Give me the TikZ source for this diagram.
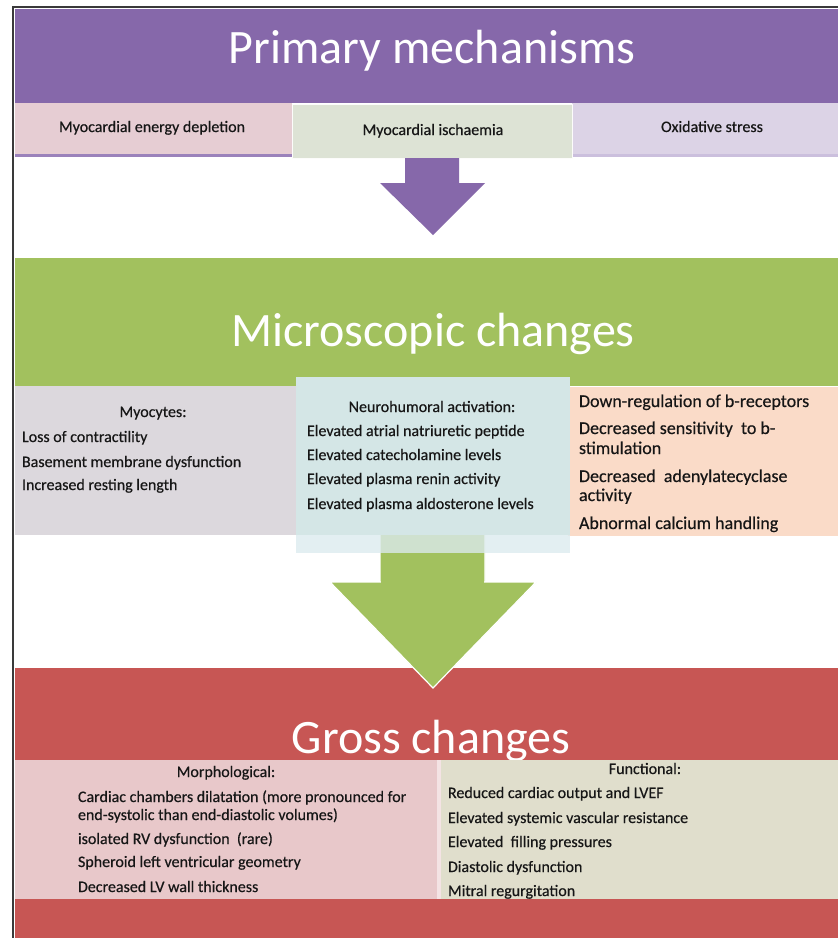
\documentclass[tikz,border=0pt]{standalone}
\usepackage{fontspec}
\setmainfont{Carlito}
\newfontfamily\bodyfont{Carlito}[FakeBold=0.45]
\definecolor{frame}{RGB}{58,58,58}
\definecolor{purp}{RGB}{134,104,170}
\definecolor{purpline}{RGB}{155,130,187}
\definecolor{pinkA}{RGB}{230,205,211}
\definecolor{sageA}{RGB}{221,227,213}
\definecolor{lavA}{RGB}{220,211,230}
\definecolor{lavline}{RGB}{203,191,221}
\definecolor{grn}{RGB}{162,193,94}
\definecolor{grayB}{RGB}{220,216,221}
\definecolor{blueB}{RGB}{212,230,230}
\definecolor{blueC}{RGB}{220,235,239}
\definecolor{peach}{RGB}{250,219,200}
\definecolor{redC}{RGB}{199,86,84}
\definecolor{pinkC}{RGB}{232,200,202}
\definecolor{beigeC}{RGB}{224,222,204}
\definecolor{txt}{RGB}{22,22,22}
\begin{document}
\begin{tikzpicture}[x=1pt,y=-1pt,
  every node/.style={inner sep=0pt,outer sep=0pt},
  title/.style={text=white,font=\fontsize{48}{56}\selectfont,anchor=base},
  item/.style={text=txt,font=\bodyfont\fontsize{16}{19}\selectfont,anchor=base west},
  head/.style={text=txt,font=\bodyfont\fontsize{16}{19}\selectfont,anchor=base},
  big/.style={text=txt,font=\bodyfont\fontsize{18}{21}\selectfont,anchor=base west},
  blockarrow/.style={draw=white,line width=1.2pt,line join=miter}]
\useasboundingbox (0,0) rectangle (838,938);
\fill[white] (0,0) rectangle (838,938);

% ---------- Primary mechanisms ----------
\fill[purp] (15,9) rectangle (838,103);
\node[title] (t1) at (432,63) {Primary mechanisms};
\fill[pinkA] (15,103) rectangle (292,156);
\fill[purpline] (15,154) rectangle (292,156.5);
\fill[lavA] (572,103) rectangle (838,156);
\fill[lavline] (572,154) rectangle (838,156.5);
\filldraw[fill=sageA,draw=white!90!sageA,line width=1pt] (292,104.5) rectangle (572,158);
\node[item,anchor=base] (p1) at (152,132) {Myocardial energy depletion};
\node[item,anchor=base] (p2) at (433,135) {Myocardial ischaemia};
\node[item,anchor=base] (p3) at (712,132) {Oxidative stress};

% purple block arrow
\fill[purp] (405,158) -- (459,158) -- (459,183) -- (485,183) -- (433,235)
  -- (380,183) -- (405,183) -- cycle;

% ---------- Microscopic changes ----------
\fill[grn] (15,258) rectangle (838,386);
\node[title] (t2) at (433,346) {Microscopic changes};
\fill[grayB] (15,386) rectangle (297,535);
\fill[peach] (568,387) rectangle (838,536);

% green block arrow (behind the lower part of the blue box)
\filldraw[fill=grn,blockarrow] (380,530) -- (485,530) -- (485,582) -- (536,582)
  -- (433,688) -- (330,582) -- (380,582) -- cycle;

% ---------- Gross changes band ----------
\fill[redC] (15,668) rectangle (838,760);
\filldraw[fill=grn,blockarrow] (330,582) -- (536,582) -- (433,688) -- cycle;
\fill[grn] (381,578) rectangle (484,590);

% blue box
\fill[blueC,opacity=0.78] (296,535) rectangle (570,553);
\fill[blueB] (296,377) rectangle (570,535);

\node[head] (m0) at (153,417) {Myocytes:};
\node[item] (m1) at (22,442) {Loss of contractility};
\node[item] (m2) at (22,467) {Basement membrane dysfunction};
\node[item] (m3) at (22,490) {Increased resting length};

\node[head] (n0) at (432,412) {Neurohumoral activation:};
\node[item] (n1) at (307,436) {Elevated atrial natriuretic peptide};
\node[item] (n2) at (307,460) {Elevated catecholamine levels};
\node[item] (n3) at (307,484) {Elevated plasma renin activity};
\node[item] (n4) at (307,509) {Elevated plasma aldosterone levels};

\node[big] (r1) at (579,407) {Down-regulation of b-receptors};
\node[big] (r2) at (579,434) {Decreased sensitivity\ \ to b-};
\node[big] (r3) at (579,454) {stimulation};
\node[big] (r4) at (579,482) {Decreased\ \ adenylatecyclase};
\node[big] (r5) at (579,501) {activity};
\node[big] (r6) at (579,529) {Abnormal calcium handling};

% ---------- Gross changes ----------
\node[title] (t3) at (431,753) {Gross changes};
\fill[pinkC] (15,760) rectangle (440,899);
\fill[beigeC] (440,760) rectangle (838,899);
\fill[white!50!pinkC] (437,760) rectangle (441,899);
\fill[redC] (15,899) rectangle (838,938);

\node[head] (g0) at (226,777) {Morphological:};
\node[item] (g1) at (78,802) {Cardiac chambers dilatation (more pronounced for};
\node[item] (g2) at (78,820) {end-systolic than end-diastolic volumes)};
\node[item] (g3) at (78,844) {isolated RV dysfunction\ \ (rare)};
\node[item] (g4) at (78,867) {Spheroid left ventricular geometry};
\node[item] (g5) at (78,892) {Decreased LV wall thickness};

\node[head] (f0) at (645,774) {Functional:};
\node[item] (f1) at (448,798) {Reduced cardiac output and LVEF};
\node[item] (f2) at (448,823) {Elevated systemic vascular resistance};
\node[item] (f3) at (448,847) {Elevated\ \ filling pressures};
\node[item] (f4) at (448,872) {Diastolic dysfunction};
\node[item] (f5) at (448,896) {Mitral regurgitation};

% ---------- frame ----------
\draw[frame,line width=2pt] (13,938) -- (13,7) -- (838,7);
\end{tikzpicture}
\end{document}
